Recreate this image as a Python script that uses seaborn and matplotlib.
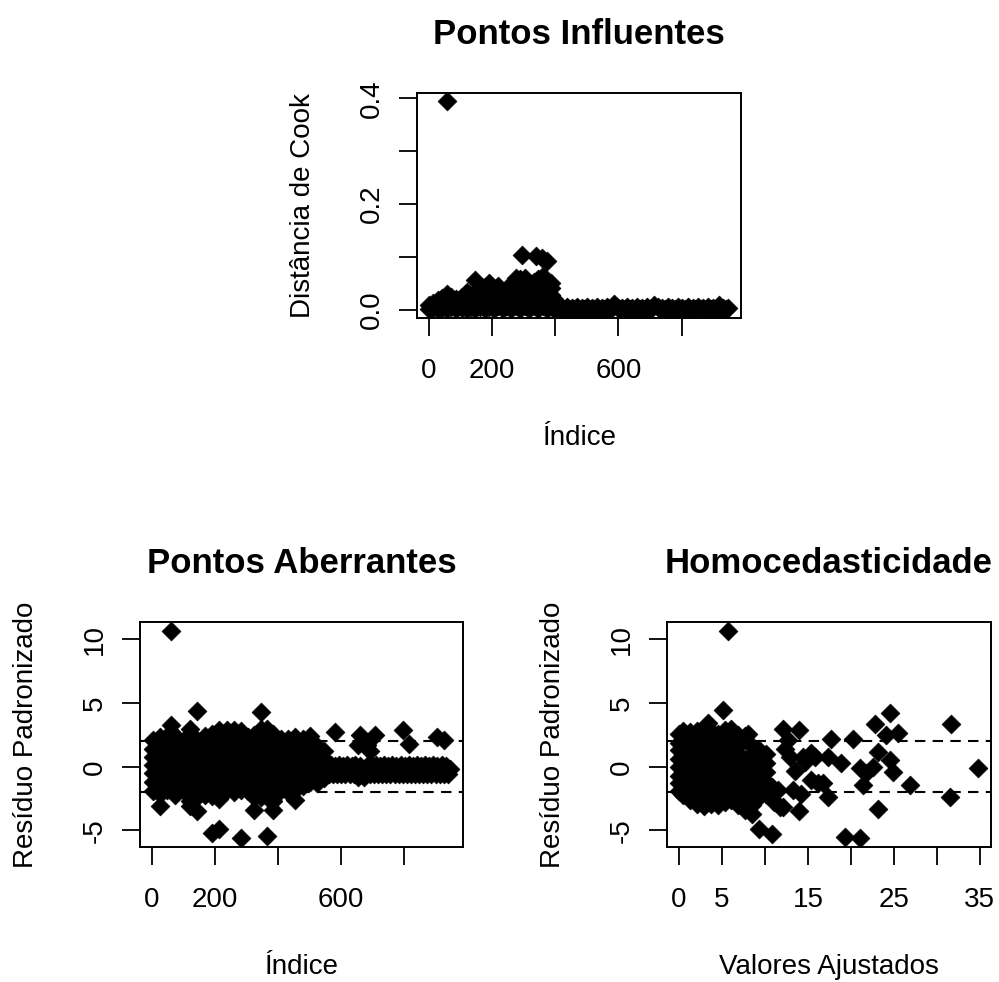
import matplotlib
matplotlib.use("Agg")
import matplotlib.pyplot as plt
import seaborn as sns
import numpy as np
import pandas as pd

# ── Global style ─────────────────────────────────────────────
sns.set_theme(style="ticks")
plt.rcParams["font.family"] = ["Liberation Sans", "DejaVu Sans"]
plt.rcParams["text.color"] = "black"
plt.rcParams["axes.labelcolor"] = "black"

# ── Data ─────────────────────────────────────────────────────
# Cook's distance by observation index (dense part written by column)
cook_blob_idx = [0, 14, 28, 42, 58, 72, 88, 104, 120, 134, 148, 162, 178, 192, 206,
                 220, 234, 248, 262, 276, 290, 296, 304, 318, 332, 338, 346, 358,
                 362, 375, 386, 398]
cook_blob_val = [
    [0.002, 0.008], [0.003, 0.013], [0.001, 0.010, 0.018], [0.004, 0.014, 0.022],
    [0.002, 0.011, 0.021, 0.030, 0.394], [0.005, 0.015, 0.024], [0.002, 0.011, 0.020],
    [0.004, 0.014, 0.024], [0.001, 0.010, 0.020, 0.034], [0.005, 0.015, 0.026],
    [0.002, 0.011, 0.021, 0.031, 0.057], [0.005, 0.015, 0.025, 0.036],
    [0.002, 0.011, 0.021, 0.031, 0.043], [0.005, 0.015, 0.025, 0.036, 0.050],
    [0.002, 0.012, 0.022, 0.032], [0.006, 0.016, 0.026, 0.037, 0.044],
    [0.002, 0.012, 0.022, 0.032], [0.006, 0.016, 0.027, 0.041],
    [0.002, 0.012, 0.022, 0.033, 0.045], [0.006, 0.017, 0.028, 0.040, 0.059],
    [0.002, 0.012, 0.023, 0.046, 0.058], [0.104],
    [0.006, 0.017, 0.028, 0.039, 0.050, 0.060], [0.002, 0.012, 0.023, 0.034, 0.044],
    [0.006, 0.017, 0.028, 0.040, 0.053], [0.102],
    [0.002, 0.012, 0.023, 0.034, 0.046, 0.058], [0.097],
    [0.006, 0.017, 0.028, 0.040, 0.052, 0.063], [0.002, 0.012, 0.023, 0.034, 0.046, 0.092],
    [0.006, 0.016, 0.028, 0.041, 0.050], [0.002, 0.010, 0.020],
]
cook_band_idx = [406, 414, 421, 429, 437, 445, 452, 460, 468, 476, 485, 492, 500, 508,
                 516, 524, 531, 540, 548, 556, 563, 571, 579, 586, 596, 604, 611, 620,
                 628, 636, 643, 652, 660, 668, 675, 683, 691, 699, 707, 713, 724, 731,
                 739, 748, 756, 763, 771, 780, 788, 796, 803, 812, 820, 828, 835, 843,
                 851, 860, 868, 876, 883, 892, 900, 908, 915, 918, 924, 932, 940, 947]
cook_band_val = [0.005, 0.001, 0.004, 0.001, 0.005, 0.001, 0.004, 0.001, 0.005, 0.001,
                 0.004, 0.001, 0.005, 0.001, 0.004, 0.001, 0.005, 0.001, 0.004, 0.001,
                 0.005, 0.001, 0.004, 0.011, 0.005, 0.001, 0.004, 0.001, 0.005, 0.001,
                 0.004, 0.001, 0.005, 0.001, 0.004, 0.001, 0.005, 0.001, 0.004, 0.008,
                 0.005, 0.001, 0.004, 0.001, 0.005, 0.001, 0.004, 0.001, 0.005, 0.001,
                 0.004, 0.001, 0.005, 0.001, 0.004, 0.001, 0.005, 0.001, 0.004, 0.001,
                 0.005, 0.001, 0.004, 0.001, 0.005, 0.009, 0.001, 0.004, 0.001, 0.003]

# Standardised residual by observation index
res_blob_idx = [3, 26, 50, 60, 75, 99, 121, 144, 168, 192, 214, 238, 262, 284, 306,
                326, 346, 366, 386, 410, 433, 456, 480, 504, 526, 546]
res_blob_val = [
    [2.1, 1.4, 0.8, 0.1, -0.5, -1.2, -1.9],
    [2.3, 1.8, 1.1, 0.5, -0.2, -0.8, -1.5, -2.1, -3.1],
    [2.1, 1.5, 0.8, 0.2, -0.5, -1.1, -1.8],
    [10.7, 3.3, 2.7],
    [2.4, 1.8, 1.2, 0.5, -0.1, -0.8, -1.5, -2.2],
    [2.0, 1.4, 0.8, 0.1, -0.5, -1.2, -1.8],
    [3.0, 2.4, 1.8, 1.1, 0.5, -0.2, -0.8, -1.4, -2.1, -2.7, -3.1],
    [4.4, 2.1, 1.5, 0.8, 0.2, -0.5, -1.1, -1.8, -2.4, -3.5],
    [2.4, 1.8, 1.2, 0.5, -0.1, -0.8, -1.5, -2.2],
    [2.6, 2.0, 1.4, 0.8, 0.1, -0.5, -1.2, -1.8, -2.3, -5.2],
    [2.9, 2.3, 1.8, 1.1, 0.5, -0.2, -0.8, -1.5, -2.1, -2.5, -4.9],
    [2.9, 2.0, 1.4, 0.8, 0.1, -0.5, -1.2, -1.8],
    [2.9, 2.4, 1.7, 1.1, 0.5, -0.2, -0.8, -1.5, -2.0],
    [2.8, 2.1, 1.4, 0.8, 0.1, -0.5, -1.2, -1.8, -5.6],
    [2.3, 1.7, 1.1, 0.5, -0.2, -0.8, -1.4, -1.9],
    [2.5, 2.0, 1.4, 0.8, 0.1, -0.5, -1.2, -1.8, -2.4, -3.4],
    [4.3, 3.0, 2.4, 1.8, 1.1, 0.5, -0.2, -0.8, -1.5, -2.1, -2.4],
    [3.0, 2.1, 1.4, 0.8, 0.1, -0.5, -1.2, -1.8, -2.4, -5.45],
    [2.6, 1.8, 1.1, 0.5, -0.2, -0.8, -1.5, -2.1, -2.7, -3.4],
    [2.2, 1.4, 0.8, 0.1, -0.5, -1.2, -1.8],
    [2.2, 1.8, 1.1, 0.5, -0.2, -0.8, -1.5, -2.0],
    [2.3, 1.5, 0.8, 0.1, -0.5, -1.2, -1.8, -2.6],
    [2.2, 1.7, 1.1, 0.5, -0.2, -0.8, -1.5],
    [2.4, 1.5, 0.8, 0.1, -0.5, -1.2],
    [1.6, 1.1, 0.5, -0.2, -0.8, -1.3],
    [1.2, 0.6, 0.0, -0.6, -0.9],
]
res_band_idx = [556, 563, 570, 576, 582, 589, 596, 602, 607, 614, 621, 628, 635, 641,
                647, 656, 660, 667, 673, 680, 686, 693, 699, 706, 712, 719, 725, 732,
                738, 745, 751, 758, 764, 771, 777, 784, 790, 797, 803, 810, 816, 823,
                829, 836, 842, 849, 855, 862, 868, 875, 881, 888, 894, 901, 907, 914,
                920, 927, 933, 940, 946]
res_band_val = [0.05, -0.55, 0.1, -0.6, 0.05, -0.55, 0.1, -0.6, 0.05, -0.55, 0.1,
                -0.6, 0.05, -0.55, 0.1, -0.8, 0.05, -0.6, -0.8, -0.55, 0.1, -0.6, 0.05,
                -0.55, 0.1, -0.6, 0.05, -0.55, 0.1, -0.6, 0.05, -0.55, 0.1, -0.6, 0.05,
                -0.55, 0.1, -0.6, 0.05, -0.55, 0.1, -0.6, 0.05, -0.55, 0.1, -0.6, 0.05,
                -0.55, 0.1, -0.6, 0.05, -0.55, 0.1, -0.6, 0.05, -0.55, 0.1, -0.6, 0.05,
                -0.55, -0.2]
res_out_idx = [582, 656, 661, 682, 692, 708, 797, 818, 907, 928]
res_out_val = [2.7, 1.7, 2.5, 1.7, 1.2, 2.5, 2.9, 1.8, 2.3, 2.1]

# Standardised residual by fitted value
fit_cloud_x = [0.05, 0.5, 1.3, 2.1, 2.9, 3.4, 3.7, 4.5, 5.1, 5.3, 5.7, 6.1, 6.9, 7.7,
               8.5, 9.3, 10.1]
fit_cloud_val = [
    [2.6, 1.9, 1.3, 0.6, 0.0, -0.7, -1.3, -1.9],
    [2.8, 2.2, 1.6, 0.9, 0.3, -0.4, -1.0, -1.6, -2.2],
    [2.7, 1.9, 1.3, 0.6, 0.0, -0.7, -1.3, -1.9, -2.6],
    [2.8, 2.2, 1.6, 0.9, 0.3, -0.4, -1.0, -1.6, -2.3, -2.9],
    [2.7, 1.9, 1.3, 0.6, 0.0, -0.7, -1.3, -1.9, -2.6, -3.1],
    [3.4],
    [2.8, 2.2, 1.6, 0.9, 0.3, -0.4, -1.0, -1.6, -2.3, -2.9],
    [2.6, 1.9, 1.3, 0.6, 0.0, -0.7, -1.3, -1.9, -2.6, -3.0],
    [4.45],
    [2.9, 2.2, 1.6, 0.9, 0.3, -0.4, -1.0, -1.6, -2.3, -2.8],
    [10.7],
    [3.0, 1.9, 1.3, 0.6, 0.0, -0.7, -1.3, -1.9, -2.6],
    [2.5, 2.2, 1.6, 0.9, 0.3, -0.4, -1.0, -1.6, -2.3, -3.0],
    [2.4, 0.6, 0.0, -0.7, -1.3, -1.9, -2.6, -3.4],
    [1.6, 0.9, 0.3, -0.4, -1.0, -1.6, -2.2, -3.0, -3.7],
    [1.3, 0.6, 0.0, -0.7, -1.3, -2.0, -2.4, -4.9],
    [1.0, 0.3, -0.4, -1.2, -2.1],
]
fit_out_x = [8.0, 10.8, 11.5, 11.0, 11.7, 12.1, 12.1, 13.9, 12.7, 12.3, 12.9, 13.5,
             14.6, 15.4, 15.4, 16.2, 14.2, 13.9, 13.3, 17.7, 17.3, 14.4, 15.8, 18.9,
             20.2, 17.3, 21.0, 21.8, 22.6, 21.4, 23.2, 24.5, 24.9, 22.8, 24.5, 24.1,
             25.5, 26.9, 23.2, 19.3, 21.0, 31.7, 31.5, 34.8, 10.8, 16.8]
fit_out_val = [2.6, -1.6, -1.8, -2.75, -3.14, 3.0, -3.14, 2.9, 2.1, 1.4, 0.8, -0.3,
               0.4, 1.05, -1.05, -1.3, -2.1, -3.5, -1.8, 2.2, 0.8, 0.8, 0.8, 0.27,
               2.15, -2.4, -0.13, -0.52, 0.0, -1.44, 1.18, 0.53, -0.39, 3.35, 4.2, 2.5,
               2.67, -1.44, -3.35, -5.5, -5.63, 3.35, -2.36, -0.13, -5.3, -1.3]


def columns_to_frame(xs, cols, xname, yname):
    """Flatten per-column value lists into a long table."""
    x = np.repeat(xs, [len(c) for c in cols])
    y = np.concatenate([np.asarray(c, dtype=float) for c in cols])
    return pd.DataFrame({xname: x, yname: y})


cook_df = pd.concat([
    columns_to_frame(cook_blob_idx, cook_blob_val, "indice", "cook"),
    pd.DataFrame({"indice": cook_band_idx, "cook": cook_band_val}),
])
res_df = pd.concat([
    columns_to_frame(res_blob_idx, res_blob_val, "indice", "residuo"),
    pd.DataFrame({"indice": res_band_idx, "residuo": res_band_val}),
    pd.DataFrame({"indice": res_out_idx, "residuo": res_out_val}),
])
fit_df = pd.concat([
    columns_to_frame(fit_cloud_x, fit_cloud_val, "ajustado", "residuo"),
    pd.DataFrame({"ajustado": fit_out_x, "residuo": fit_out_val}),
])

# ── Figure ───────────────────────────────────────────────────
fig = plt.figure(figsize=(9.99, 9.82), dpi=100)
ax1 = fig.add_axes([0.4174, 0.6762, 0.3243, 0.2291])
ax2 = fig.add_axes([0.1401, 0.1375, 0.3233, 0.2291])
ax3 = fig.add_axes([0.6677, 0.1375, 0.3243, 0.2291])

MARK = dict(marker="D", s=92, color="black", edgecolor="black", linewidth=0.5,
            legend=False)
DASH = dict(color="black", lw=1.5, ls=(0, (5, 3.5)), zorder=1)


def style_r(ax, title, xlabel, ylabel, xticks, xlabels, yticks, ylabels):
    ax.set_xticks(xticks)
    ax.set_xticklabels(xlabels)
    ax.set_yticks(yticks)
    ax.set_yticklabels(ylabels, rotation=90, va="center")
    ax.set_title(title, fontsize=25, fontweight="bold", pad=35, color="black")
    ax.set_xlabel(xlabel, fontsize=20, labelpad=29)
    ax.set_ylabel(ylabel, fontsize=20, labelpad=31)
    ax.tick_params(direction="out", length=13, width=1.3, labelsize=20,
                   color="black", labelcolor="black")
    ax.tick_params(axis="x", pad=16)
    ax.tick_params(axis="y", pad=10)
    for sp in ax.spines.values():
        sp.set_visible(True)
        sp.set_linewidth(1.4)
        sp.set_color("black")
    ax.set_facecolor("white")


# Pontos Influentes
sns.scatterplot(data=cook_df, x="indice", y="cook", ax=ax1, **MARK)
ax1.set_xlim(-37, 988)
ax1.set_ylim(-0.0158, 0.41)
style_r(ax1, "Pontos Influentes", "Índice", "Distância de Cook",
        [0, 200, 400, 600, 800], ["0", "200", "", "600", ""],
        [0.0, 0.1, 0.2, 0.3, 0.4], ["0.0", "", "0.2", "", "0.4"])

# Pontos Aberrantes
sns.scatterplot(data=res_df, x="indice", y="residuo", ax=ax2, **MARK)
ax2.axhline(2, **DASH)
ax2.axhline(-2, **DASH)
ax2.set_xlim(-37, 988)
ax2.set_ylim(-6.3, 11.37)
style_r(ax2, "Pontos Aberrantes", "Índice", "Resíduo Padronizado",
        [0, 200, 400, 600, 800], ["0", "200", "", "600", ""],
        [-5, 0, 5, 10], ["-5", "0", "5", "10"])

# Homocedasticidade
sns.scatterplot(data=fit_df, x="ajustado", y="residuo", ax=ax3, **MARK)
ax3.axhline(2, **DASH)
ax3.axhline(-2, **DASH)
ax3.set_xlim(-1.4, 36.3)
ax3.set_ylim(-6.3, 11.37)
style_r(ax3, "Homocedasticidade", "Valores Ajustados", "Resíduo Padronizado",
        [0, 5, 10, 15, 20, 25, 30, 35], ["0", "5", "", "15", "", "25", "", "35"],
        [-5, 0, 5, 10], ["-5", "0", "5", "10"])

fig.savefig("out.png", dpi=100, facecolor="white")
